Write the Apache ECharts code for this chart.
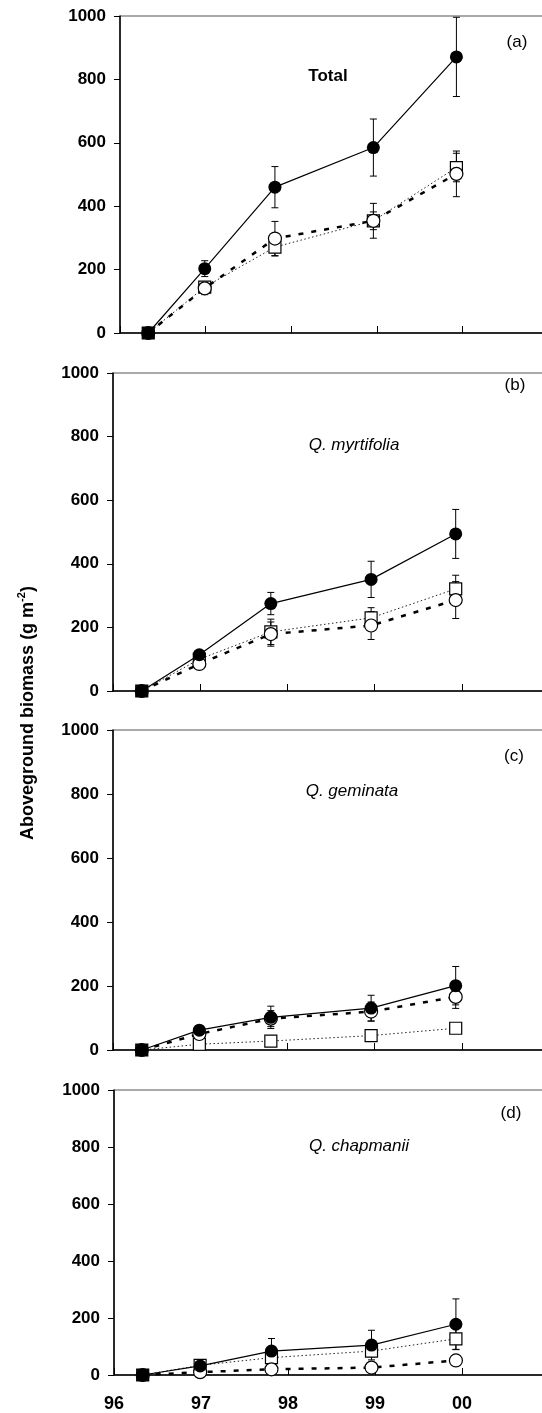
<!DOCTYPE html>
<html lang="en">
<head>
  <meta charset="UTF-8">
  <title>Aboveground biomass</title>
  <style>
    html, body { margin: 0; padding: 0; background: #fff; }
    #chart { width: 542px; height: 1413px; }
  </style>
</head>
<body>
  <div id="chart"></div>
  <script src="https://cdn.jsdelivr.net/npm/echarts@6/dist/echarts.min.js"></script>
  <script>
    // sampling dates (year, 96 = 1996 ... 00 = 2000)
    var years = [96.33, 96.99, 97.81, 98.96, 99.93]
    var yTicks = [0, 200, 400, 600, 800, 1000]

    // (a) Total
    var totalFilled = [0, 203, 460, 585, 871]
    var totalFilledErr = [0, 25, 65, 90, 125]
    var totalSquare = [0, 145, 271, 354, 522]
    var totalSquareErr = [0, 15, 28, 28, 45]
    var totalCircle = [0, 141, 298, 354, 502]
    var totalCircleErr = [0, 20, 54, 55, 72]

    // (b) Q. myrtifolia
    var myrtFilled = [0, 114, 275, 351, 494]
    var myrtFilledErr = [0, 12, 35, 57, 77]
    var myrtSquare = [0, 100, 186, 230, 321]
    var myrtSquareErr = [0, 10, 40, 32, 43]
    var myrtCircle = [0, 85, 179, 206, 286]
    var myrtCircleErr = [0, 10, 38, 44, 58]

    // (c) Q. geminata
    var gemFilled = [0, 62, 102, 131, 201]
    var gemFilledErr = [0, 12, 35, 40, 60]
    var gemSquare = [0, 18, 28, 45, 68]
    var gemSquareErr = [0, 3, 5, 6, 8]
    var gemCircle = [0, 50, 98, 120, 166]
    var gemCircleErr = [0, 10, 25, 30, 36]

    // (d) Q. chapmanii
    var chapFilled = [0, 32, 84, 105, 178]
    var chapFilledErr = [0, 8, 44, 52, 89]
    var chapSquare = [0, 34, 61, 84, 127]
    var chapSquareErr = [0, 6, 15, 20, 37]
    var chapCircle = [0, 10, 20, 26, 51]
    var chapCircleErr = [0, 3, 4, 5, 8]

    var panels = [
      {filled: totalFilled, fErr: totalFilledErr, square: totalSquare, sErr: totalSquareErr, circle: totalCircle, cErr: totalCircleErr},
      {filled: myrtFilled, fErr: myrtFilledErr, square: myrtSquare, sErr: myrtSquareErr, circle: myrtCircle, cErr: myrtCircleErr},
      {filled: gemFilled, fErr: gemFilledErr, square: gemSquare, sErr: gemSquareErr, circle: gemCircle, cErr: gemCircleErr},
      {filled: chapFilled, fErr: chapFilledErr, square: chapSquare, sErr: chapSquareErr, circle: chapCircle, cErr: chapCircleErr}
    ]

    var FONT = '"Liberation Sans", Arial, sans-serif'
    var grids = [
      {left: 120, top: 16, width: 428, height: 317},
      {left: 113, top: 373, width: 436, height: 318},
      {left: 113, top: 730, width: 436, height: 320},
      {left: 114, top: 1090, width: 435, height: 285}
    ]

    function pairs(vals) {
      return years.map(function (x, i) { return [x, vals[i]] })
    }

    function errorSeries(gi, vals, errs) {
      var data = years.map(function (x, i) { return [x, vals[i] - errs[i], vals[i] + errs[i]] })
      return {
        type: 'custom', xAxisIndex: gi, yAxisIndex: gi, z: 1, silent: true, animation: false,
        data: data,
        encode: {x: 0, y: [1, 2]},
        renderItem: function (params, api) {
          var x = api.value(0)
          if (api.value(2) - api.value(1) <= 0) return {type: 'group', children: []}
          var lo = api.coord([x, api.value(1)])
          var hi = api.coord([x, api.value(2)])
          var w = 3.5
          var st = {stroke: '#000', lineWidth: 1}
          return {type: 'group', children: [
            {type: 'line', shape: {x1: lo[0], y1: lo[1], x2: hi[0], y2: hi[1]}, style: st},
            {type: 'line', shape: {x1: lo[0] - w, y1: lo[1], x2: lo[0] + w, y2: lo[1]}, style: st},
            {type: 'line', shape: {x1: hi[0] - w, y1: hi[1], x2: hi[0] + w, y2: hi[1]}, style: st}
          ]}
        }
      }
    }

    var xAxes = [], yAxes = [], series = []
    grids.forEach(function (g, gi) {
      var last = gi === grids.length - 1
      xAxes.push({
        gridIndex: gi, type: 'value', min: 96, max: 101, interval: 1,
        axisLine: {lineStyle: {color: '#000', width: 1.5}},
        axisTick: {show: true, inside: true, length: 7, lineStyle: {color: '#000', width: 1}},
        splitLine: {show: false},
        axisLabel: {
          show: last, margin: 20, color: '#000', fontFamily: FONT, fontSize: 18, fontWeight: 'bold',
          formatter: function (v) {
            if (v > 100) return ''
            var y = Math.round(v) % 100
            return (y < 10 ? '0' : '') + y
          }
        }
      })
      yAxes.push({
        gridIndex: gi, type: 'value', min: yTicks[0], max: yTicks[yTicks.length - 1], interval: 200,
        axisLine: {show: true, lineStyle: {color: '#000', width: 1.5}},
        axisTick: {show: true, length: 6, lineStyle: {color: '#000', width: 1}},
        splitLine: {show: false},
        axisLabel: {margin: 14, color: '#000', fontFamily: FONT, fontSize: 17, fontWeight: 'bold',
                    formatter: function (v) { return String(v) }}
      })

      var p = panels[gi]
      series.push(errorSeries(gi, p.square, p.sErr))
      series.push(errorSeries(gi, p.circle, p.cErr))
      series.push(errorSeries(gi, p.filled, p.fErr))

      var sq = pairs(p.square)
      sq[0] = {value: sq[0], itemStyle: {color: '#000'}}
      series.push({
        type: 'line', xAxisIndex: gi, yAxisIndex: gi, data: sq, z: 2, animation: false,
        symbol: 'rect', symbolSize: 12,
        itemStyle: {color: '#fff', borderColor: '#000', borderWidth: 1.2},
        lineStyle: {color: '#222', width: 1, type: [1.5, 2.5]}
      })
      series.push({
        type: 'line', xAxisIndex: gi, yAxisIndex: gi, data: pairs(p.circle), z: 3, animation: false,
        symbol: 'circle', symbolSize: 13,
        itemStyle: {color: '#fff', borderColor: '#000', borderWidth: 1.2},
        lineStyle: {color: '#000', width: 2.5, type: [5, 8]}
      })
      series.push({
        type: 'line', xAxisIndex: gi, yAxisIndex: gi, data: pairs(p.filled), z: 4, animation: false,
        symbol: 'circle', symbolSize: 13,
        itemStyle: {color: '#000', borderColor: '#000', borderWidth: 0},
        lineStyle: {color: '#000', width: 1.2}
      })
    })

    function label(x, y, text, size, weight, style) {
      return {
        type: 'text', x: x, y: y, silent: true,
        style: {text: text, fill: '#000', font: (style || 'normal') + ' ' + (weight || 'normal') + ' ' + size + 'px ' + FONT,
                 textAlign: 'center', textVerticalAlign: 'middle'}
      }
    }

    var chart = echarts.init(document.getElementById('chart'))
    var option = {
      backgroundColor: '#fff',
      animation: false,
      grid: grids.map(function (g) {
        return {left: g.left, top: g.top, width: g.width, height: g.height, show: true,
                borderColor: '#555', borderWidth: 1, outerBoundsMode: 'none', containLabel: false}
      }),
      xAxis: xAxes,
      yAxis: yAxes,
      series: series,
      graphic: [
        label(517, 42, '(a)', 17),
        label(515, 385, '(b)', 17),
        label(514, 756, '(c)', 17),
        label(511, 1113, '(d)', 17),
        label(328, 76, 'Total', 17, 'bold'),
        label(354, 445, 'Q. myrtifolia', 17, 'normal', 'italic'),
        label(352, 791, 'Q. geminata', 17, 'normal', 'italic'),
        label(359, 1146, 'Q. chapmanii', 17, 'normal', 'italic'),
        {
          type: 'text', x: 28, y: 713, rotation: Math.PI / 2, silent: true,
          style: {
            text: '{a|Aboveground biomass (g m}{s|-2}{a|)}',
            textAlign: 'center', textVerticalAlign: 'middle',
            rich: {
              a: {fontFamily: FONT, fontSize: 18, fontWeight: 'bold', fill: '#000', color: '#000', lineHeight: 24},
              s: {fontFamily: FONT, fontSize: 11, fontWeight: 'bold', fill: '#000', color: '#000', lineHeight: 12, verticalAlign: 'top'}
            }
          }
        }
      ]
    }
    chart.setOption(option)
  </script>
</body>
</html>
